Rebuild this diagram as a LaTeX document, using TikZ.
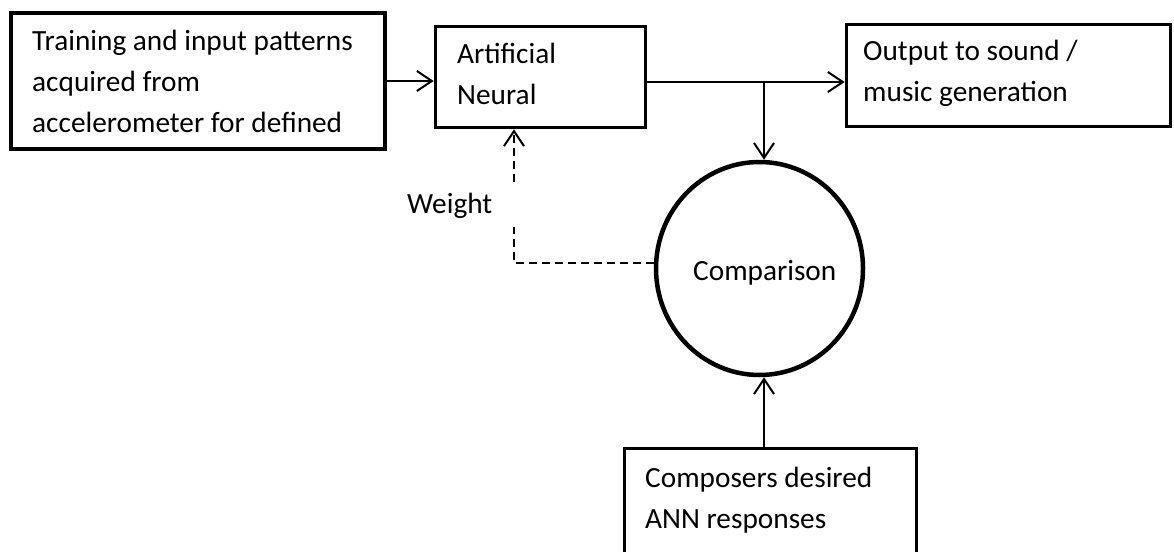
\documentclass[tikz,border=0pt]{standalone}
\usepackage{fontspec}
\setmainfont{Carlito}
\usetikzlibrary{arrows.meta,shapes.geometric}
\begin{document}
\begin{tikzpicture}[x=1pt,y=-1pt,
  box/.style={draw,line width=3.6pt,rectangle,inner sep=0pt},
  txt/.style={anchor=base west,inner sep=0pt,font=\fontsize{29.3}{41}\selectfont,align=left},
  conn/.style={line width=2pt,-{Straight Barb[length=15pt,width=20pt,line width=2pt]}},
  dconn/.style={conn,dash pattern=on 8pt off 5pt}]
\useasboundingbox (0,0) rectangle (1174,551);
% boxes
\node[box,minimum width=374pt,minimum height=136pt] (b1) at (198,81) {};
\node[box,minimum width=210pt,minimum height=101pt] (ann) at (540.5,77) {};
\node[box,minimum width=324pt,minimum height=102pt] (out) at (1008.5,75.5) {};
\node[box,minimum width=292pt,minimum height=130pt] (comp) at (770.5,513.5) {};
\node[draw,line width=4.5pt,ellipse,minimum width=207pt,minimum height=213pt,inner sep=0pt] (cmp) at (759.5,268.5) {};
% texts (anchored at the baseline of the last line)
\node[txt] (t1) at (32,132) {Training and input patterns\\acquired from\\accelerometer for defined};
\node[txt] (t2) at (457,104) {Artificial\\Neural};
\node[txt] (t3) at (863,101) {Output to sound /\\music generation};
\node[txt] (t4) at (693,280) {Comparison};
\node[txt] (t5) at (645,528) {Composers desired\\ANN responses};
% connectors
\coordinate (split) at (764,82);
\coordinate (wbend) at (514,263);
\draw[conn] (b1.east) -- (b1.east -| ann.west);
\draw[line width=2pt] (ann.east |- split) -- (split);
\draw[conn] (split) -- (out.west |- split);
\draw[conn] (split) -- (split |- cmp.north);
\draw[conn] (comp.north -| split) -- (split |- cmp.south);
\draw[dconn] (cmp.west |- wbend) -- (wbend) -- (wbend |- ann.south);
\node[txt,fill=white,inner ysep=9pt,text width=112pt] (w) at (407,213) {Weight};
\end{tikzpicture}
\end{document}
